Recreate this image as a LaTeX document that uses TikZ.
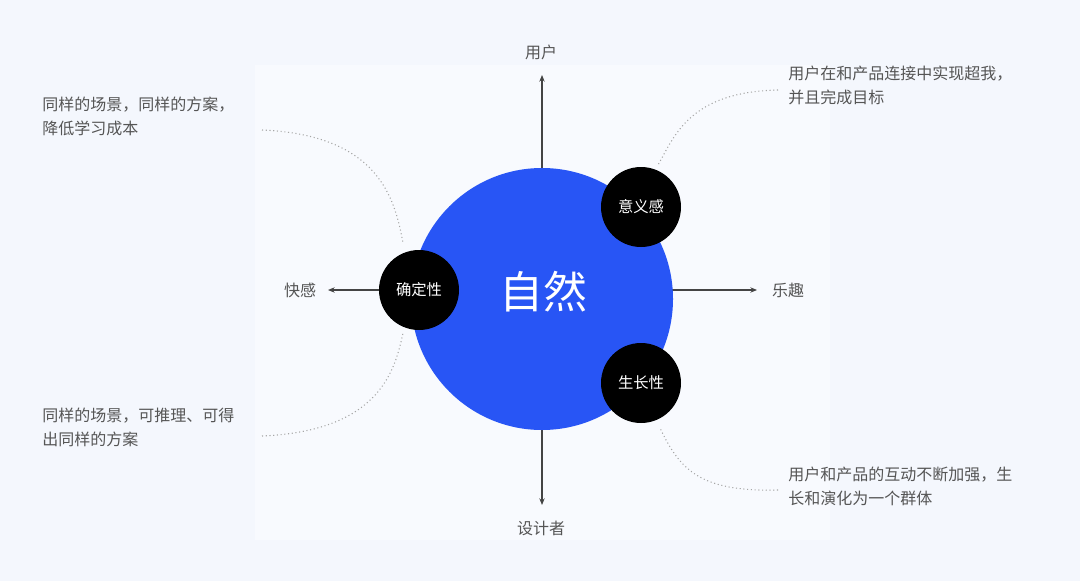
\documentclass[tikz,border=0pt]{standalone}
\usepackage{fontspec}
\setmainfont{Noto Sans CJK SC}
\usetikzlibrary{arrows.meta}
\definecolor{bg}{HTML}{F4F7FD}
\definecolor{inner}{HTML}{F8FAFE}
\definecolor{blu}{HTML}{2855F5}
\definecolor{txt}{HTML}{555555}
\definecolor{axis}{HTML}{444444}
\begin{document}
\begin{tikzpicture}[x=0.75pt,y=-0.75pt,
  axisline/.style={draw=axis,line width=0.8pt,-{Stealth[length=5pt,width=4pt]}},
  dot/.style={draw=gray!70,line width=0.8pt,dotted},
  small/.style={circle,fill=black,minimum size=80*0.75pt,inner sep=0pt,text=white,font=\fontsize{11.5}{12}\selectfont},
  lbl/.style={text=txt,font=\fontsize{12}{12}\selectfont},
  note/.style={text=txt,font=\fontsize{12}{18}\selectfont,align=left,anchor=north west,inner sep=0pt}]
\useasboundingbox (0,0) rectangle (1080,581);
\fill[bg] (0,0) rectangle (1080,581);
\fill[inner] (255,65) rectangle (830,540);
\coordinate (top) at (542,75);
\coordinate (bot) at (542,505);
\coordinate (lft) at (328,290);
\coordinate (rgt) at (757,290);
\draw[axisline] (542,299) -- (top);
\draw[axisline] (542,299) -- (bot);
\draw[axisline] (542,290) -- (lft);
\draw[axisline] (542,290) -- (rgt);
\node[circle,fill=blu,minimum size=262*0.75pt,inner sep=0pt] (main) at (542,299) {};
\node[text=white,font=\fontsize{33}{33}\selectfont] (zr) at (543,292) {自然};
\node[small] (qd) at (419,290) {确定性};
\node[small] (yy) at (641,207) {意义感};
\node[small] (sz) at (641,383) {生长性};
\node[lbl] (u) at (541,52) {用户};
\node[lbl] (d) at (541,528) {设计者};
\node[lbl] (k) at (300,290) {快感};
\node[lbl] (l) at (788,290) {乐趣};
\node[note] (n1) at (42,97) {同样的场景，同样的方案，\\降低学习成本};
\node[note] (n2) at (42,408) {同样的场景，可推理、可得\\出同样的方案};
\node[note] (n3) at (788,66) {用户在和产品连接中实现超我，\\并且完成目标};
\node[note] (n4) at (788,467) {用户和产品的互动不断加强，生\\长和演化为一个群体};
\coordinate (a1) at (262,130); \coordinate (b1) at (403,243);
\coordinate (a2) at (262,436); \coordinate (b2) at (403,333);
\coordinate (a3) at (778,90);  \coordinate (b3) at (658,165);
\coordinate (a4) at (778,490); \coordinate (b4) at (660,428);
\draw[dot] (a1) .. controls (380,135) and (395,200) .. (b1);
\draw[dot] (a2) .. controls (380,431) and (395,370) .. (b2);
\draw[dot] (a3) .. controls (690,92) and (675,135) .. (b3);
\draw[dot] (a4) .. controls (700,492) and (680,470) .. (b4);
\end{tikzpicture}
\end{document}
